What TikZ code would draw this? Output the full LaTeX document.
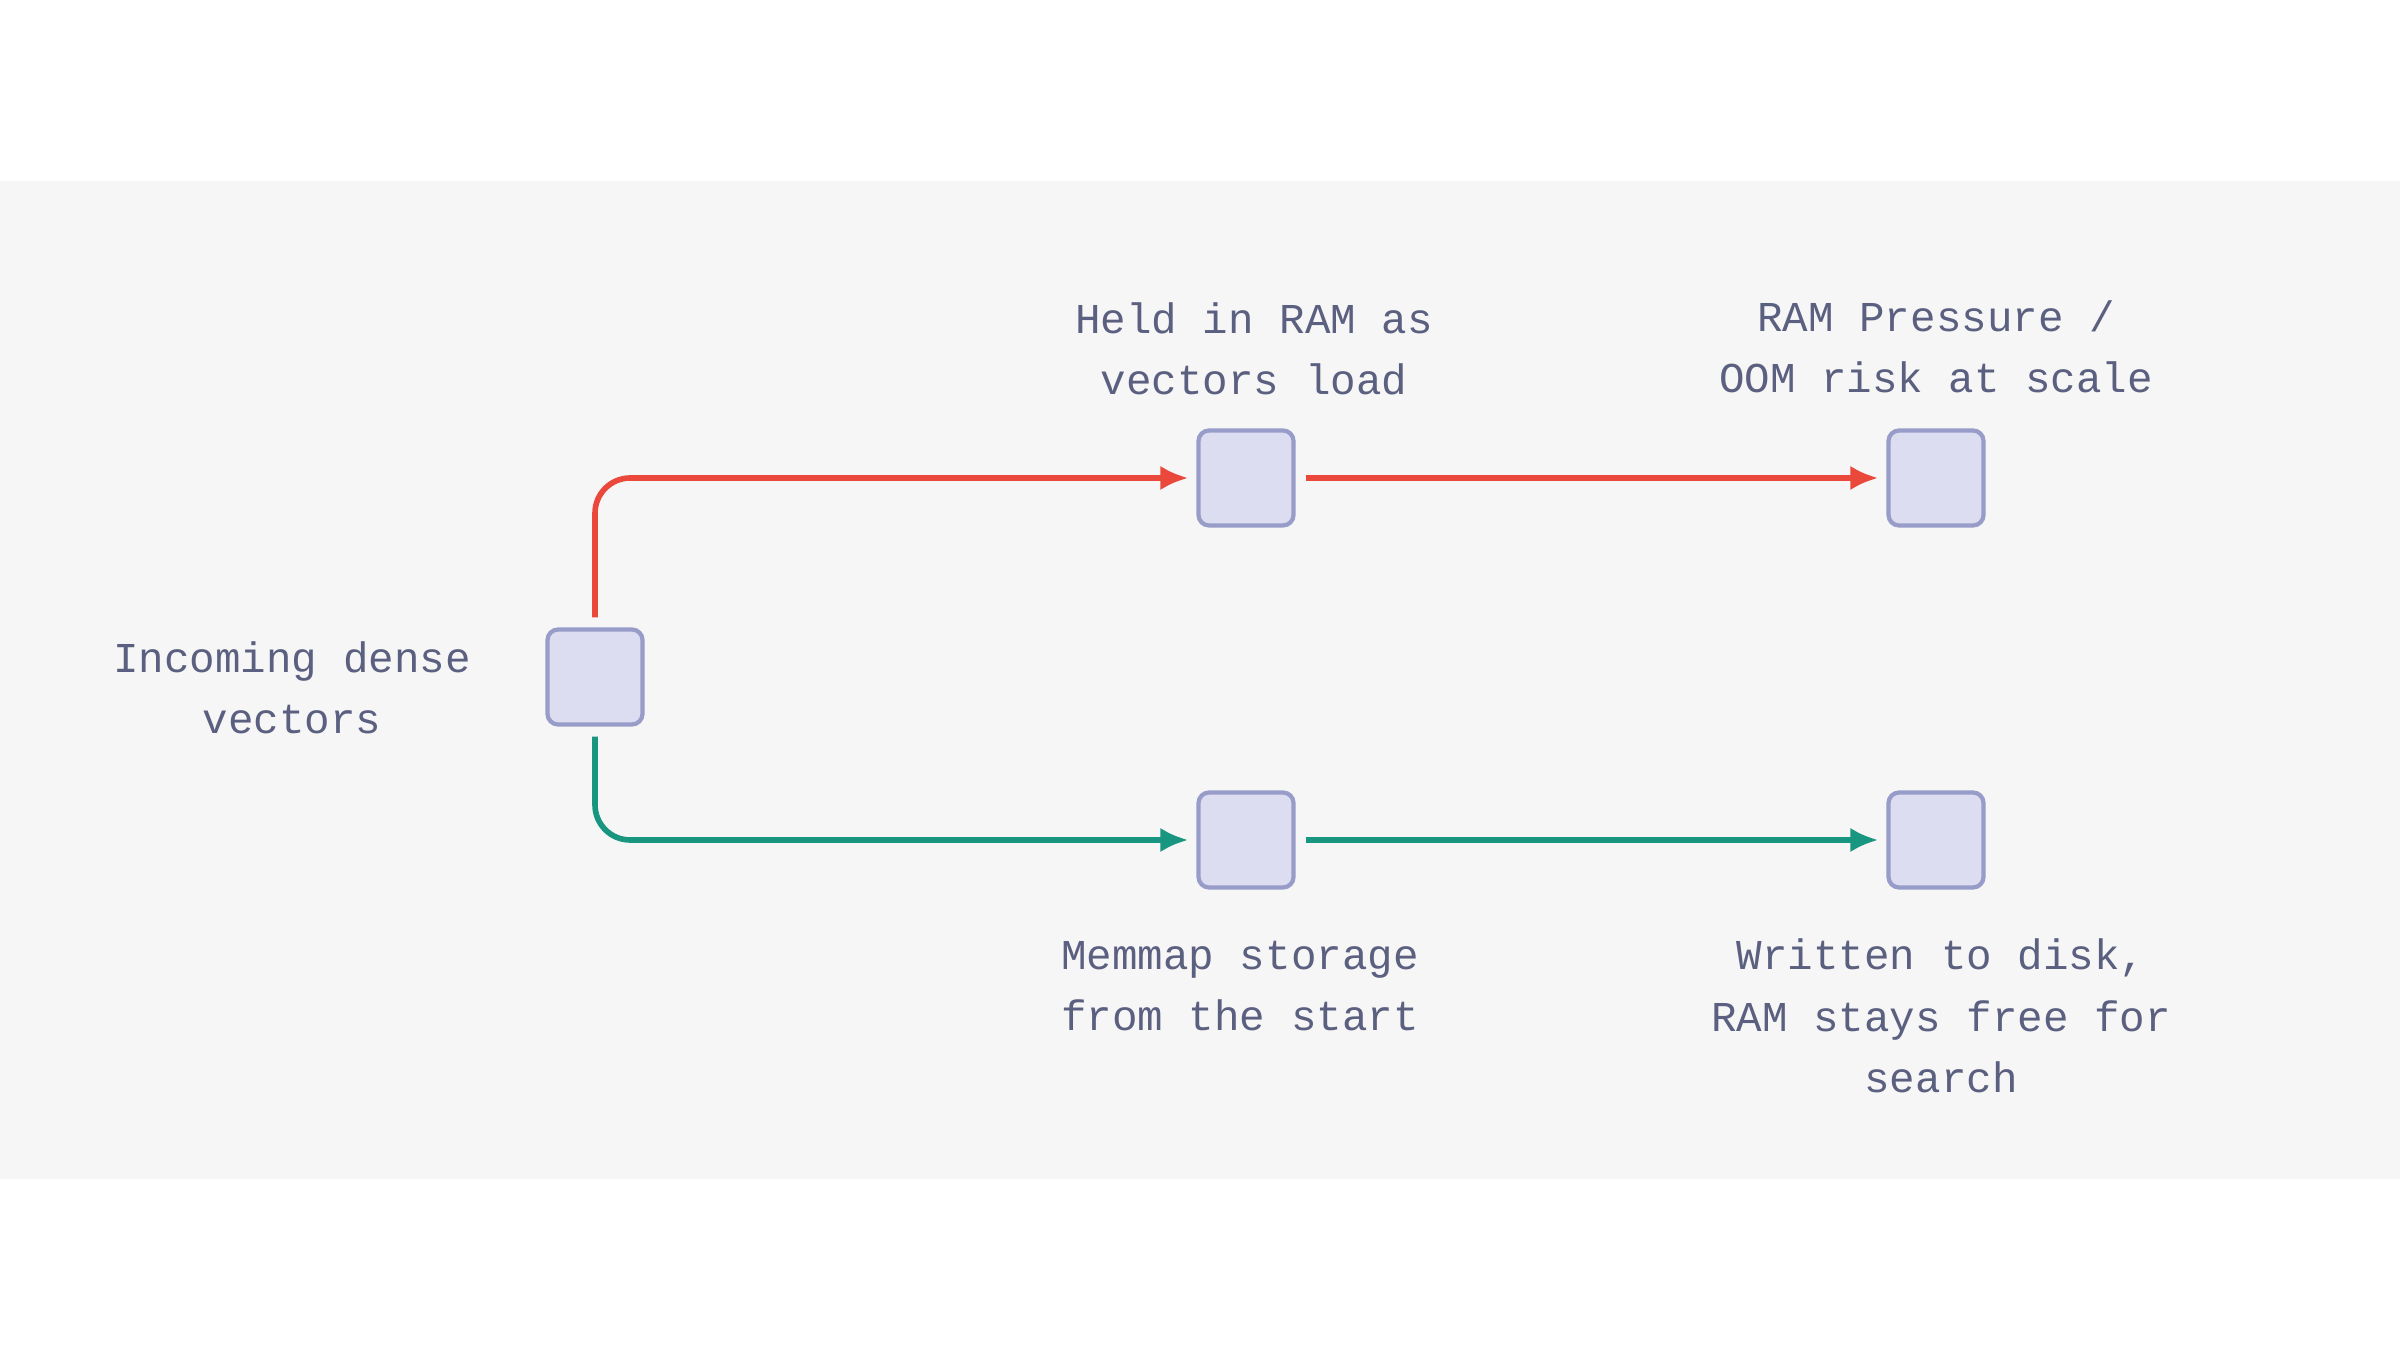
\documentclass[tikz,border=0pt]{standalone}
\usepackage{fontspec}
\setmonofont{Liberation Mono}
\usetikzlibrary{positioning,arrows.meta}
\definecolor{band}{RGB}{246,246,246}
\definecolor{txt}{RGB}{92,96,128}
\definecolor{boxfill}{RGB}{221,221,241}
\definecolor{boxline}{RGB}{152,156,200}
\definecolor{ramred}{RGB}{234,72,58}
\definecolor{diskteal}{RGB}{24,150,128}
\tikzset{>={Latex[length=8pt,width=7pt]}}
\tikzset{stage/.style={draw=boxline,fill=boxfill,line width=1.2pt,rounded corners=3pt,minimum size=0.95cm,inner sep=0pt}}
\tikzset{lbl/.style={text=txt,font=\ttfamily\fontsize{12.1}{17.5}\selectfont,align=center}}
\tikzset{flow/.style={->,line width=1.6pt,rounded corners=10pt,shorten <=0.1cm,shorten >=0.08cm}}

\begin{document}
\begin{tikzpicture}
            \useasboundingbox (0,0) rectangle (24,13.6);
            \fill[white] (0,0) rectangle (24,13.6);
            \fill[band] (0,1.81) rectangle (24,11.79);
            % stages
            \node[stage] (in) at (5.95,6.83) {};
            \node[stage] (held) at (12.46,8.82) {};
            \node[stage] (oom) at (19.36,8.82) {};
            \node[stage] (memmap) at (12.46,5.2) {};
            \node[stage] (disk) at (19.36,5.2) {};
            % labels
            \node[lbl] (lin) at (2.92,6.72) {Incoming dense\\vectors};
            \node[lbl] (lheld) at (12.54,10.11) {Held in RAM as\\vectors load};
            \node[lbl] (loom) at (19.36,10.13) {RAM Pressure /\\OOM risk at scale};
            \node[lbl] (lmemmap) at (12.4,3.74) {Memmap storage\\from the start};
            \node[lbl] (ldisk) at (19.41,3.44) {Written to disk,\\RAM stays free for\\search};
            % paths
            \draw[flow,ramred] (in.north) |- (held.west);
            \draw[flow,ramred] (held.east) -- (oom.west);
            \draw[flow,diskteal] (in.south) |- (memmap.west);
            \draw[flow,diskteal] (memmap.east) -- (disk.west);
\end{tikzpicture}
\end{document}
